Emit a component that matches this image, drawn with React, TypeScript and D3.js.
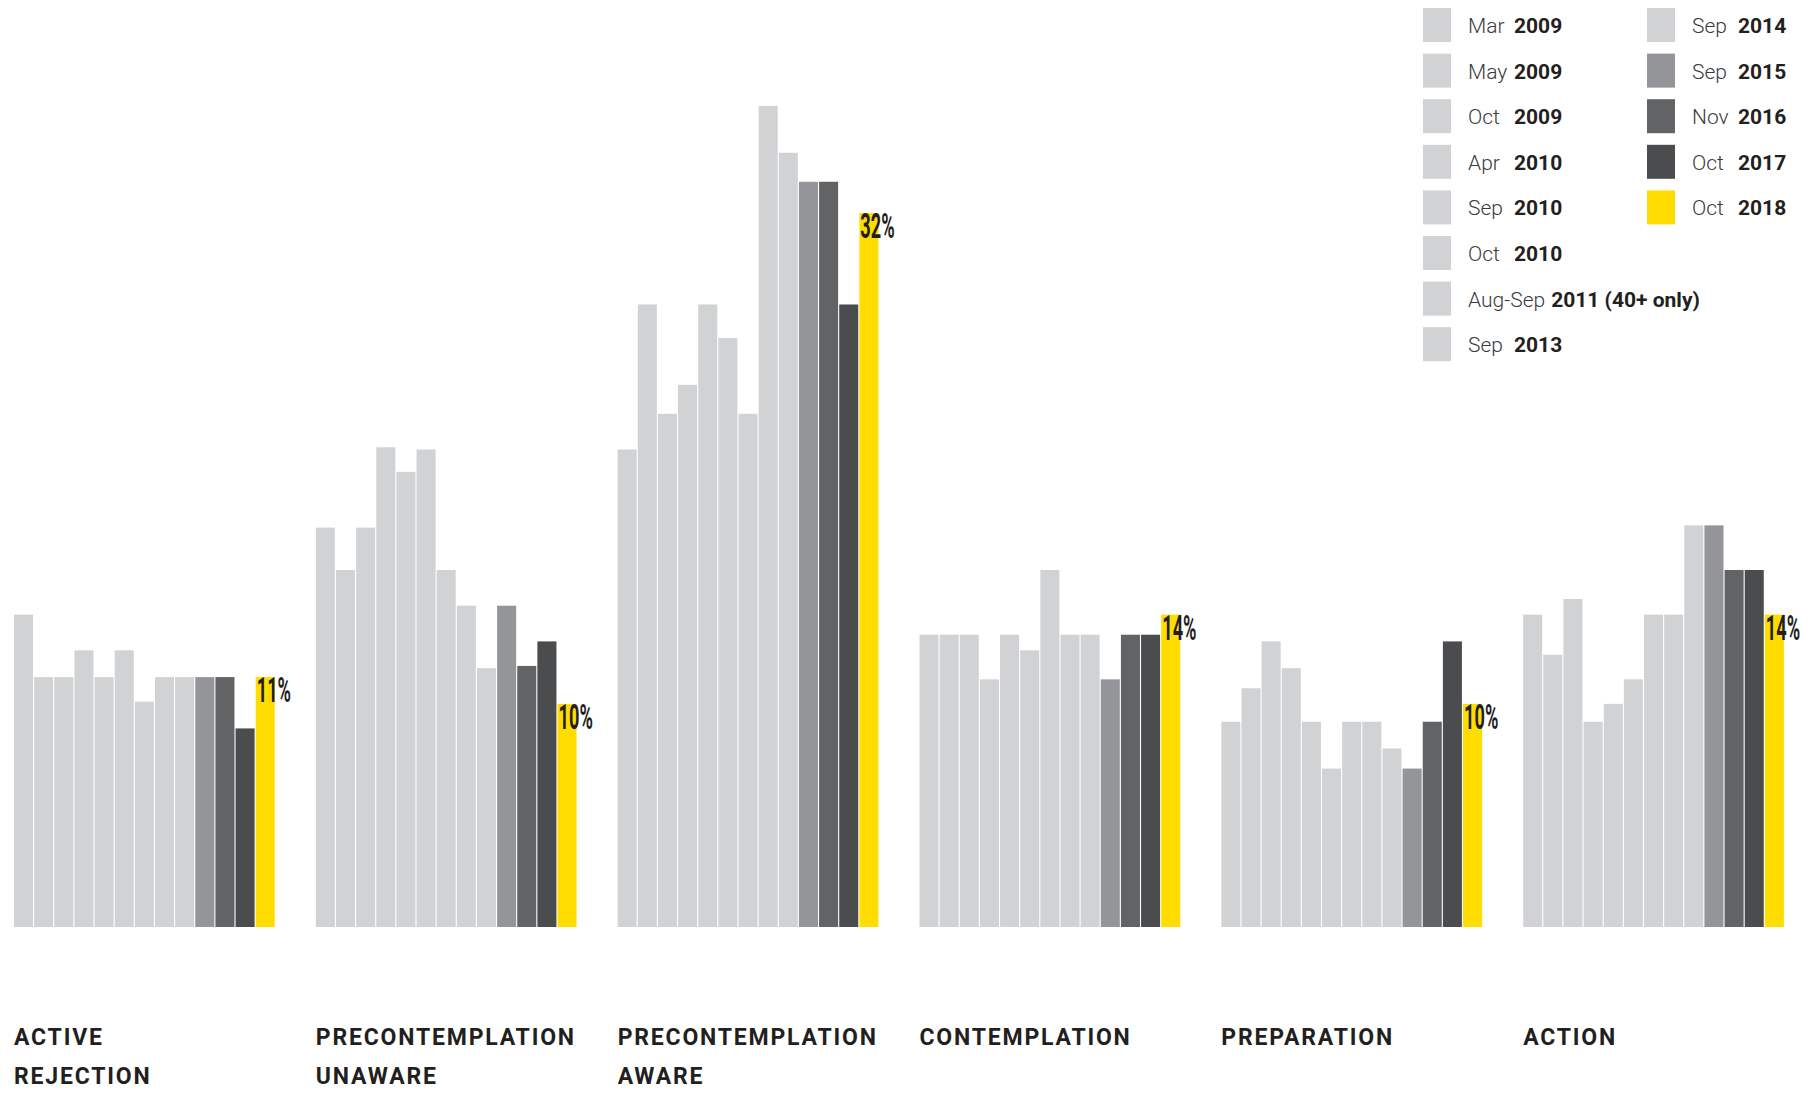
import { useEffect, useRef } from "react";
import * as d3 from "d3";

const WIDTH = 1816;
const HEIGHT = 1093;
const BASELINE = 927;

// Survey waves, in the order the bars are drawn inside every group
const waveMonths = ["Mar", "May", "Oct", "Apr", "Sep", "Oct", "Aug-Sep", "Sep", "Sep", "Sep", "Nov", "Oct", "Oct"];
const waveYears = ["2009", "2009", "2009", "2010", "2010", "2010", "2011 (40+ only)", "2013", "2014", "2015", "2016", "2017", "2018"];
const waveColors = [
  "#d1d2d4", "#d1d2d4", "#d1d2d4", "#d1d2d4", "#d1d2d4", "#d1d2d4", "#d1d2d4",
  "#d1d2d4", "#d1d2d4", "#949598", "#626365", "#4b4c4e", "#ffdd00",
];

const stages = ["ACTIVE REJECTION", "PRECONTEMPLATION UNAWARE", "PRECONTEMPLATION AWARE", "CONTEMPLATION", "PREPARATION", "ACTION"];
const stageLines = [
  ["ACTIVE", "REJECTION"],
  ["PRECONTEMPLATION", "UNAWARE"],
  ["PRECONTEMPLATION", "AWARE"],
  ["CONTEMPLATION"],
  ["PREPARATION"],
  ["ACTION"],
];

// % of respondents per stage, one value per survey wave
const activeRejection = [14.0, 11.2, 11.2, 12.4, 11.2, 12.4, 10.1, 11.2, 11.2, 11.2, 11.2, 8.9, 11.2];
const precontemplationUnaware = [17.9, 16.0, 17.9, 21.5, 20.4, 21.4, 16.0, 14.4, 11.6, 14.4, 11.7, 12.8, 10.0];
const precontemplationAware = [21.4, 27.9, 23.0, 24.3, 27.9, 26.4, 23.0, 36.8, 34.7, 33.4, 33.4, 27.9, 32.0];
const contemplation = [13.1, 13.1, 13.1, 11.1, 13.1, 12.4, 16.0, 13.1, 13.1, 11.1, 13.1, 13.1, 14.0];
const preparation = [9.2, 10.7, 12.8, 11.6, 9.2, 7.1, 9.2, 9.2, 8.0, 7.1, 9.2, 12.8, 10.0];
const action = [14.0, 12.2, 14.7, 9.2, 10.0, 11.1, 14.0, 14.0, 18.0, 18.0, 16.0, 16.0, 14.0];

const stageValues = [activeRejection, precontemplationUnaware, precontemplationAware, contemplation, preparation, action];

const FONT = "Roboto, 'Noto Sans', sans-serif";
const INK = "#231f20";

export default function App() {
  const svgRef = useRef<SVGSVGElement | null>(null);

  useEffect(() => {
    if (!svgRef.current) return;
    const svg = d3.select(svgRef.current);
    svg.selectAll("*").remove();

    const waves = waveMonths.map((m, i) => `${m} ${waveYears[i]}`);

    const x0 = d3.scaleBand().domain(stages).range([14, 1785]).paddingInner(0.1325);
    const x1 = d3.scaleBand().domain(waves).range([0, x0.bandwidth()]);
    const y = d3.scaleLinear().domain([0, 32]).range([BASELINE, 213]);

    // Bars per stage
    stages.forEach((stage, si) => {
      const g = svg.append("g").attr("transform", `translate(${x0(stage)},0)`);
      const vals = stageValues[si];

      g.selectAll("rect")
        .data(vals)
        .enter()
        .append("rect")
        .attr("x", (_d: number, i: number) => x1(waves[i]) ?? 0)
        .attr("width", x1.step() - 1.1)
        .attr("y", (d: number) => y(d))
        .attr("height", (d: number) => BASELINE - y(d))
        .attr("fill", (_d: number, i: number) => waveColors[i]);

      // Latest value label on the yellow bar's top left corner,
      // squeezed horizontally to mimic a condensed face
      const last = vals[vals.length - 1];
      const lx = (x1(waves[waves.length - 1]) ?? 0) + 1;
      g.append("text")
        .attr("transform", `translate(${lx},${y(last) + 25}) scale(0.52,1)`)
        .attr("fill", INK)
        .style("font-family", FONT)
        .style("font-weight", 700)
        .style("font-size", "35px")
        .text(`${Math.round(last)}%`);

      // Stage name under the group
      stageLines[si].forEach((line, li) => {
        g.append("text")
          .attr("x", 0)
          .attr("y", 1045 + li * 39)
          .attr("fill", INK)
          .style("font-family", FONT)
          .style("font-weight", 700)
          .style("font-size", "23px")
          .style("letter-spacing", "1.8px")
          .text(line);
      });
    });

    // Legend, two columns
    const legend = svg.append("g");
    waves.forEach((_w, i) => {
      const col = i < 8 ? 0 : 1;
      const row = col === 0 ? i : i - 8;
      const sx = col === 0 ? 1423 : 1647;
      const ry = 8 + row * 45.6;

      legend
        .append("rect")
        .attr("x", sx)
        .attr("y", ry)
        .attr("width", 28)
        .attr("height", 34)
        .attr("fill", waveColors[i]);

      const t = legend
        .append("text")
        .attr("x", sx + 45)
        .attr("y", ry + 25)
        .style("font-family", FONT)
        .style("font-size", "21px");

      t.append("tspan")
        .attr("fill", "#3a3a3c")
        .style("font-weight", 300)
        .text(waveMonths[i]);

      const year = t
        .append("tspan")
        .attr("fill", INK)
        .style("font-weight", 700)
        .text(waveYears[i]);

      if (waveMonths[i].length > 3) year.attr("dx", 6);
      else year.attr("x", sx + 91);
    });
  }, []);

  return (
    <div style={{ position: "absolute", left: 0, top: 0, background: "#fff" }}>
      <svg ref={svgRef} width={WIDTH} height={HEIGHT} style={{ display: "block" }} />
    </div>
  );
}
